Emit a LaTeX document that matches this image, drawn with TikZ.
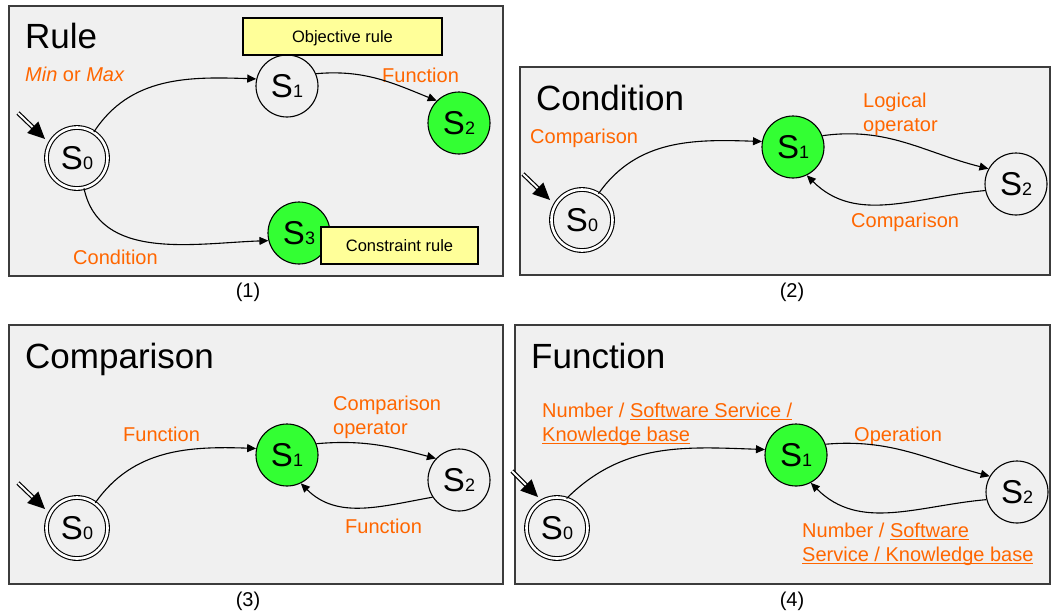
\documentclass[tikz,border=0pt]{standalone}
\usepackage{fontspec}
\setmainfont{Liberation Sans}
\usetikzlibrary{arrows.meta,calc}
\definecolor{panelbg}{RGB}{240,240,240}
\definecolor{panelline}{RGB}{60,60,60}
\definecolor{stategreen}{RGB}{51,255,51}
\definecolor{lblorange}{RGB}{255,102,0}
\definecolor{notey}{RGB}{255,255,153}
% state label: big S with a small index on the baseline
\newcommand\st[1]{{\fontsize{33}{33}\selectfont S}{\fontsize{18}{18}\selectfont #1}}
% underline at a fixed depth below the baseline
\newsavebox\ulinebox
\newcommand\ulinetext[1]{\sbox\ulinebox{#1}\rlap{\usebox\ulinebox}\rule[-2.6pt]{\wd\ulinebox}{1pt}}
% initial-state marker: double shaft with a large filled head
% #1 = start coordinate, #2 = tip coordinate
\newcommand\entryarrow[2]{%
  \draw[entryshaft] (#1) -- (#2);
  \coordinate (#2h) at ($(#2)!17pt!(#1)$);
  \fill ($(#2h)!8pt!90:(#2)$) -- (#2) -- ($(#2h)!8pt!-90:(#2)$) -- cycle;}

\begin{document}
\begin{tikzpicture}[x=1pt,y=1pt,
  panel/.style={draw=panelline, fill=panelbg, line width=1.4},
  statenode/.style={circle, draw, line width=1.1, minimum size=62, inner sep=0, fill=panelbg},
  startstate/.style={statenode, minimum size=61, double=white, double distance=2.6},
  accept/.style={statenode, fill=stategreen},
  paneltitle/.style={anchor=base west, inner sep=0, font=\fontsize{35}{35}\selectfont},
  lbl/.style={anchor=base west, inner sep=0, text=lblorange, align=left, font=\fontsize{20}{24}\selectfont},
  sublabel/.style={anchor=base, inner sep=0, font=\fontsize{20}{20}\selectfont},
  notebox/.style={draw, line width=1.1, fill=notey, inner sep=0, text height=12.5, text depth=0, font=\fontsize{16.5}{16.5}\selectfont},
  trans/.style={line width=1.1, -{Triangle[length=9pt,width=8pt]}},
  entryshaft/.style={double, double distance=2, line width=1.2, shorten >=12},
]
\useasboundingbox (0,0) rectangle (1051,-614);

% ---------- (1) Rule ----------
\draw[panel] (9,-6) rectangle (503,-276);
\node[paneltitle] (t1) at (25,-48) {Rule};
\node[startstate] (a0) at (77,-158) {\st0};
\node[statenode] (a1) at (287,-86) {\st1};
\node[accept] (a2) at (459,-123) {\st2};
\node[accept] (a3) at (299,-233) {\st3};
\node[notebox, minimum width=199, minimum height=37] (obj) at (342.5,-36.5) {Objective rule};
\node[notebox, minimum width=157, minimum height=37] (con) at (399.5,-245.5) {Constraint rule};
\node[lbl] (la1) at (25,-81) {\textit{Min} or \textit{Max}};
\node[lbl] (la2) at (382,-82) {Function};
\node[lbl] (la3) at (73,-264) {Condition};
\draw[trans] (a0.57) to[out=57,in=178] (a1.167);
\draw[trans] (a1.23) to[out=5,in=158] (a2.135);
\draw[trans] (a0.-77) to[out=-78,in=182] (a3.194);
\coordinate (ea) at (18,-113);
\coordinate (ta) at (45,-139);
\entryarrow{ea}{ta}
\node[sublabel] (c1) at (248,-297) {(1)};

% ---------- (2) Condition ----------
\draw[panel] (520,-67) rectangle (1050,-275);
\node[paneltitle] (t2) at (536,-110) {Condition};
\node[startstate] (b0) at (582,-220) {\st0};
\node[accept] (b1) at (793,-147) {\st1};
\node[statenode] (b2) at (1016,-184) {\st2};
\node[lbl] (lb1) at (530,-143) {Comparison};
\node[lbl] (lb2) at (863,-131) {Logical\\operator};
\node[lbl] (lb3) at (851,-227) {Comparison};
\draw[trans] (b0.58) to[out=55,in=178] (b1.170);
\draw[trans] (b1.21) to[out=8,in=166] (b2.151);
\draw[trans] (b2.192) to[out=185,in=-45] (b1.-64);
\coordinate (eb) at (523,-174);
\coordinate (tb) at (550,-200);
\entryarrow{eb}{tb}
\node[sublabel] (c2) at (792,-297) {(2)};

% ---------- (3) Comparison ----------
\draw[panel] (9,-325) rectangle (503,-584);
\node[paneltitle] (t3) at (25,-368) {Comparison};
\node[startstate] (c0) at (77,-528) {\st0};
\node[accept] (cc1) at (287,-455) {\st1};
\node[statenode] (cc2) at (459,-480) {\st2};
\node[lbl] (lc1) at (123,-441) {Function};
\node[lbl] (lc2) at (333,-434) {Comparison\\operator};
\node[lbl] (lc3) at (345,-533) {Function};
\draw[trans] (c0.54) to[out=55,in=178] (cc1.168);
\draw[trans] (cc1.21) to[out=5,in=165] (cc2.137);
\draw[trans] (cc2.213) to[out=190,in=-45] (cc1.-64);
\coordinate (ec) at (18,-483);
\coordinate (tc) at (45,-509);
\entryarrow{ec}{tc}
\node[sublabel] (c3) at (248,-606) {(3)};

% ---------- (4) Function ----------
\draw[panel] (515,-325) rectangle (1050,-584);
\node[paneltitle] (t4) at (531,-368) {Function};
\node[startstate] (d0) at (557,-528) {\st0};
\node[accept] (d1) at (796,-455) {\st1};
\node[statenode] (d2) at (1017,-492) {\st2};
\node[lbl] (ld1) at (542,-441) {Number / \ulinetext{Software Service /}\\\ulinetext{Knowledge base}};
\node[lbl] (ld2) at (854,-441) {Operation};
\node[lbl] (ld3) at (802,-561) {Number / \ulinetext{Software}\\\ulinetext{Service / Knowledge base}};
\draw[trans] (d0.72) to[out=45,in=178] (d1.170);
\draw[trans] (d1.20) to[out=5,in=165] (d2.150);
\draw[trans] (d2.194) to[out=185,in=-45] (d1.-62);
\coordinate (ed) at (512,-471);
\coordinate (td) at (538,-497);
\entryarrow{ed}{td}
\node[sublabel] (c4) at (792,-606) {(4)};
\end{tikzpicture}
\end{document}
